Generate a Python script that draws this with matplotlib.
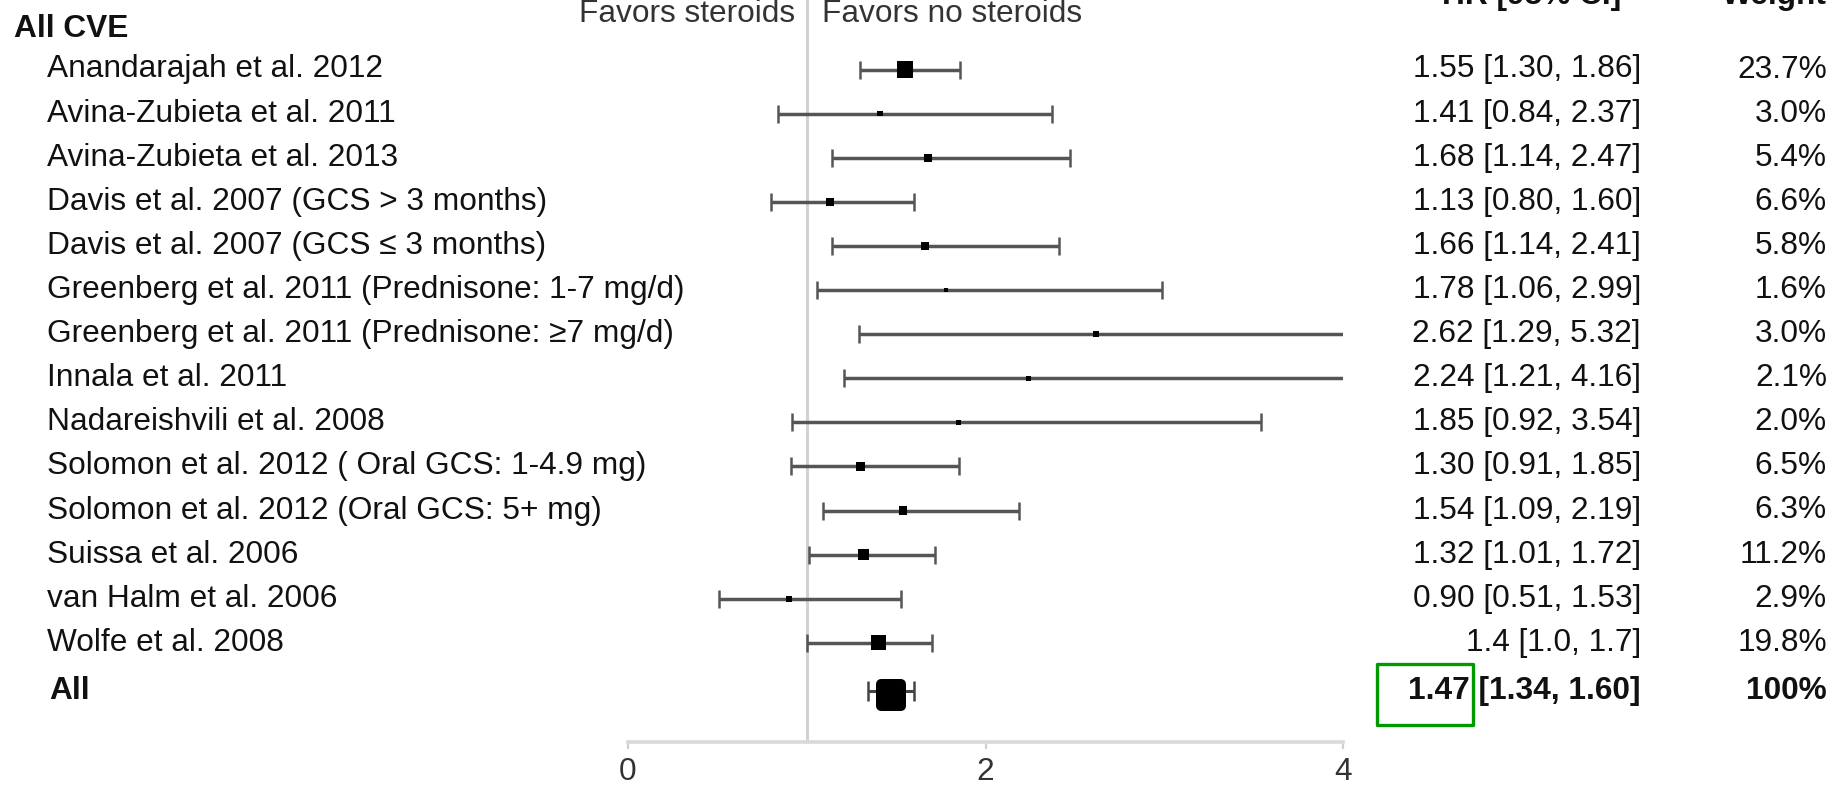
import numpy as np
import matplotlib
matplotlib.use("Agg")
import matplotlib.pyplot as plt
from matplotlib import transforms as mtransforms
from matplotlib.patches import Rectangle
from matplotlib.path import Path

# ---- data -------------------------------------------------------------
studies = [
    "Anandarajah et al. 2012",
    "Avina-Zubieta et al. 2011",
    "Avina-Zubieta et al. 2013",
    "Davis et al. 2007 (GCS > 3 months)",
    "Davis et al. 2007 (GCS \u2264 3 months)",
    "Greenberg et al. 2011 (Prednisone: 1-7 mg/d)",
    "Greenberg et al. 2011 (Prednisone: \u22657 mg/d)",
    "Innala et al. 2011",
    "Nadareishvili et al. 2008",
    "Solomon et al. 2012 ( Oral GCS: 1-4.9 mg)",
    "Solomon et al. 2012 (Oral GCS: 5+ mg)",
    "Suissa et al. 2006",
    "van Halm et al. 2006",
    "Wolfe et al. 2008",
]
hr = [1.55, 1.41, 1.68, 1.13, 1.66, 1.78, 2.62, 2.24, 1.85, 1.30, 1.54, 1.32, 0.90, 1.4]
ci_low = [1.30, 0.84, 1.14, 0.80, 1.14, 1.06, 1.29, 1.21, 0.92, 0.91, 1.09, 1.01, 0.51, 1.0]
ci_high = [1.86, 2.37, 2.47, 1.60, 2.41, 2.99, 5.32, 4.16, 3.54, 1.85, 2.19, 1.72, 1.53, 1.7]
weights = [23.7, 3.0, 5.4, 6.6, 5.8, 1.6, 3.0, 2.1, 2.0, 6.5, 6.3, 11.2, 2.9, 19.8]
decimals = [2, 2, 2, 2, 2, 2, 2, 2, 2, 2, 2, 2, 2, 1]

pooled_label = "All"
pooled_hr = 1.47
pooled_low = 1.34
pooled_high = 1.60
pooled_weight = 100

group_title = "All CVE"
left_side = "Favors steroids"
right_side = "Favors no steroids"
col_hr = "HR [95% CI]"
col_weight = "Weight"
x_ticks = [0, 2, 4]

# ---- figure -------------------------------------------------------------
W, H = 1841, 787
DPI = 100
plt.rcParams["font.family"] = ["Liberation Sans", "DejaVu Sans"]
FS = 22.8
TXT = "#111111"

fig = plt.figure(figsize=(W / DPI, H / DPI), dpi=DPI)
fig.patch.set_facecolor("white")


def fx(px):
    return px / W


def fy(px_from_top):
    return (H - px_from_top) / H


# plotting panel: x from 0 to 4, rows top to bottom
ax_left, ax_right = 628, 1343
ax_bottom_px = 742
ax = fig.add_axes([fx(ax_left), fy(ax_bottom_px), fx(ax_right - ax_left), ax_bottom_px / H])

row_px0, row_step = 69.5, 44.1
n = len(studies)
rows = np.arange(n)
pooled_row = n + 0.1
ax.set_xlim(0, 4)
ax.set_ylim((ax_bottom_px - row_px0) / row_step, -row_px0 / row_step)

for side in ("top", "right", "left"):
    ax.spines[side].set_visible(False)
ax.spines["bottom"].set_color("#d9d9d9")
ax.spines["bottom"].set_linewidth(2.6)
ax.set_yticks([])
ax.set_xticks(x_ticks)
ax.set_xticklabels([str(t) for t in x_ticks])
ax.tick_params(axis="x", direction="out", length=5, width=1.6, color="#cfcfcf",
               labelsize=FS, labelcolor="#333333", pad=6)

# null line
ax.axvline(1, color="#d2d2d2", lw=2.2, zorder=1)

px2pt = 72.0 / DPI

# study intervals and boxes
hr_a = np.array(hr)
ax.errorbar(hr_a, rows, xerr=[hr_a - np.array(ci_low), np.array(ci_high) - hr_a],
            fmt="none", ecolor="#555555", elinewidth=2.5, capsize=6.5, capthick=1.8,
            zorder=2)
side_px = 3.3 * np.sqrt(np.array(weights))
ax.scatter(hr_a, rows, s=(side_px * px2pt) ** 2, marker="s", color="black",
           linewidths=0, zorder=3)

# pooled estimate: slightly tall box with rounded corners
ax.errorbar([pooled_hr], [pooled_row], xerr=[[pooled_hr - pooled_low], [pooled_high - pooled_hr]],
            fmt="none", ecolor="#444444", elinewidth=2.2, capsize=7, capthick=1.8, zorder=2)
tall_box = Path([(-0.42, -0.5), (0.42, -0.5), (0.42, 0.5), (-0.42, 0.5), (-0.42, -0.5)],
                [Path.MOVETO, Path.LINETO, Path.LINETO, Path.LINETO, Path.CLOSEPOLY])
pooled_side = 3.3 * np.sqrt(pooled_weight)
edge = 10
pc = ax.scatter([pooled_hr], [pooled_row + 0.08], s=((pooled_side - edge) * px2pt) ** 2,
                marker=tall_box, color="black", edgecolors="black",
                linewidths=edge * px2pt, zorder=3)
pc.set_joinstyle("round")

# ---- text columns -------------------------------------------------------
trans = mtransforms.blended_transform_factory(fig.transFigure, ax.transData)

fig.text(fx(14), fy(29), group_title, fontsize=FS, fontweight="bold", color=TXT,
         va="center", ha="left")

for i, name in enumerate(studies):
    d = decimals[i]
    ax.text(fx(47), i, name, transform=trans, fontsize=FS, color=TXT,
            va="center", ha="left", clip_on=False)
    ax.text(fx(1641), i, f"{hr[i]:.{d}f} [{ci_low[i]:.{d}f}, {ci_high[i]:.{d}f}]",
            transform=trans, fontsize=FS, color=TXT, va="center", ha="right", clip_on=False)
    ax.text(fx(1827), i, f"{weights[i]:.1f}%", transform=trans, fontsize=FS, color=TXT,
            va="center", ha="right", clip_on=False)

ax.text(fx(49), pooled_row, pooled_label, transform=trans, fontsize=FS, fontweight="bold",
        color=TXT, va="center", ha="left", clip_on=False)
ax.text(fx(1641), pooled_row, f"{pooled_hr:.2f} [{pooled_low:.2f}, {pooled_high:.2f}]",
        transform=trans, fontsize=FS, fontweight="bold", color=TXT, va="center", ha="right",
        clip_on=False)
ax.text(fx(1827), pooled_row, f"{pooled_weight}%", transform=trans, fontsize=FS,
        fontweight="bold", color=TXT, va="center", ha="right", clip_on=False)

# highlight around pooled estimate
fig.patches.append(Rectangle((fx(1377), fy(725)), fx(96), (725 - 664) / H,
                             transform=fig.transFigure, fill=False, edgecolor="#009a00",
                             linewidth=2.4, joinstyle="round", zorder=5))

# direction labels and column headers
fig.text(fx(795), fy(22), left_side, fontsize=FS, color="#333333", ha="right", va="baseline")
fig.text(fx(822), fy(22), right_side, fontsize=FS, color="#333333", ha="left", va="baseline")
fig.text(fx(1621), fy(4), col_hr, fontsize=FS, fontweight="bold", color=TXT,
         ha="right", va="baseline")
fig.text(fx(1827), fy(4), col_weight, fontsize=FS, fontweight="bold", color=TXT,
         ha="right", va="baseline")

fig.savefig("out.png", dpi=DPI, facecolor="white")
